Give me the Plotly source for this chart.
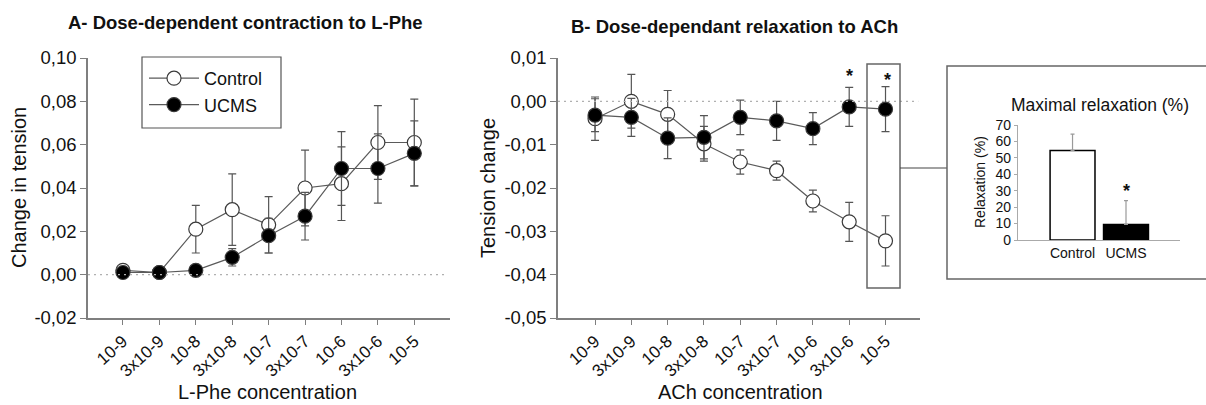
import plotly.graph_objects as go

W, H = 1206, 405
def px(x): return x / W
def py(y): return 1 - y / H

FONT = "Liberation Sans, Arial, sans-serif"
TXT = "#111111"

conc = ["10-9", "3x10-9", "10-8", "3x10-8", "10-7", "3x10-7", "10-6", "3x10-6", "10-5"]

# Panel A: L-Phe contraction
a_ctrl = [0.002, 0.001, 0.021, 0.030, 0.023, 0.040, 0.042, 0.061, 0.061]
a_ctrl_err = [0.0, 0.0, 0.011, 0.0165, 0.013, 0.0175, 0.017, 0.017, 0.020]
a_ucms = [0.001, 0.001, 0.002, 0.008, 0.018, 0.027, 0.049, 0.049, 0.056]
a_ucms_err = [0.0, 0.0, 0.0, 0.004, 0.008, 0.011, 0.017, 0.016, 0.015]
a_ticks = [-0.02, 0.0, 0.02, 0.04, 0.06, 0.08, 0.10]
a_ticktext = ["-0,02", "0,00", "0,02", "0,04", "0,06", "0,08", "0,10"]

# Panel B: ACh relaxation
b_ctrl = [-0.004, 0.000, -0.003, -0.0098, -0.014, -0.016, -0.023, -0.0278, -0.0322]
b_ctrl_err = [0.005, 0.0062, 0.0055, 0.004, 0.0028, 0.0022, 0.0025, 0.0045, 0.0058]
b_ucms = [-0.0032, -0.0037, -0.0085, -0.0083, -0.0037, -0.0045, -0.0063, -0.0013, -0.0018]
b_ucms_err = [0.0038, 0.0044, 0.0047, 0.005, 0.004, 0.0045, 0.0037, 0.0045, 0.0052]
b_ticks = [-0.05, -0.04, -0.03, -0.02, -0.01, 0.0, 0.01]
b_ticktext = ["-0,05", "-0,04", "-0,03", "-0,02", "-0,01", "0,00", "0,01"]

# Inset: maximal relaxation
groups = ["Control", "UCMS"]
max_relax = [54.5, 9.5]
max_relax_err = [10.0, 14.5]
inset_ticks = [0, 10, 20, 30, 40, 50, 60, 70]

AXC = "#7f7f7f"
LINEC = "#5a5a5a"
MARKC = "#3a3a3a"
ERRC = "#555555"

fig = go.Figure()

def add_series(x, y, err, fill, name, xa, ya, show):
    fig.add_trace(go.Scatter(
        x=x, y=y, name=name, mode="lines+markers",
        xaxis=xa, yaxis=ya, showlegend=show,
        line=dict(color=LINEC, width=1.2),
        marker=dict(size=14, color=fill, line=dict(color=MARKC, width=1.2)),
        error_y=dict(type="data", array=err, visible=True, color=ERRC,
                     thickness=1.2, width=4),
    ))

add_series(conc, a_ctrl, a_ctrl_err, "white", "Control", "x", "y", True)
add_series(conc, a_ucms, a_ucms_err, "black", "UCMS", "x", "y", True)
add_series(conc, b_ctrl, b_ctrl_err, "white", "Control", "x2", "y2", False)
add_series(conc, b_ucms, b_ucms_err, "black", "UCMS", "x2", "y2", False)

fig.add_trace(go.Bar(
    x=groups, y=max_relax, xaxis="x3", yaxis="y3", showlegend=False,
    width=0.84,
    marker=dict(color=["white", "black"], line=dict(color="black", width=1.5)),
    error_y=dict(type="data", array=max_relax_err, arrayminus=[0, 0],
                 symmetric=False, visible=True, color="#9a9a9a",
                 thickness=1.2, width=2),
))

common_x = dict(type="category", showline=True, linecolor=AXC, linewidth=1.5,
                ticks="outside", ticklen=5, tickcolor=AXC, tickwidth=1.2,
                tickangle=-42, tickfont=dict(family=FONT, size=17, color=TXT),
                showgrid=False, zeroline=False, automargin=False)
common_y = dict(showline=True, linecolor=AXC, linewidth=1.5,
                ticks="outside", ticklen=6, tickcolor=AXC, tickwidth=1.2,
                tickfont=dict(family=FONT, size=18.5, color=TXT),
                showgrid=False, zeroline=False, automargin=False)

fig.update_layout(
    width=W, height=H,
    margin=dict(l=0, r=0, t=0, b=0, pad=0, autoexpand=False),
    paper_bgcolor="white", plot_bgcolor="rgba(0,0,0,0)",
    font=dict(family=FONT, color=TXT),
    xaxis=dict(common_x, domain=[px(88), px(450)], range=[-0.96, 8.98],
               anchor="y"),
    yaxis=dict(common_y, domain=[py(318), py(58)], range=[-0.02, 0.10],
               tickvals=a_ticks, ticktext=a_ticktext, anchor="x"),
    xaxis2=dict(common_x, domain=[px(558), px(920)], range=[-1.02, 8.95],
                anchor="y2"),
    yaxis2=dict(common_y, domain=[py(318), py(58)], range=[-0.05, 0.01],
                tickvals=b_ticks, ticktext=b_ticktext, anchor="x2"),
    xaxis3=dict(type="category", domain=[px(1018), px(1180)], range=[-1.02, 2.01],
                showline=True, linecolor="#aaaaaa", linewidth=1.2, ticks="",
                tickfont=dict(family=FONT, size=14, color=TXT),
                showgrid=False, zeroline=False, anchor="y3", automargin=False),
    yaxis3=dict(domain=[py(240), py(125)], range=[0, 70],
                tickvals=inset_ticks,
                showline=True, linecolor="#aaaaaa", linewidth=1.2,
                ticks="outside", ticklen=3, tickcolor="#aaaaaa",
                tickfont=dict(family=FONT, size=14, color=TXT),
                showgrid=False, zeroline=False, anchor="x3", automargin=False),
    legend=dict(x=px(144), y=py(60), xanchor="left", yanchor="top",
                borderwidth=0, bgcolor="rgba(0,0,0,0)",
                font=dict(family=FONT, size=18, color=TXT),
                itemwidth=50, tracegroupgap=0),
    bargap=0.16,
)

shapes = [
    # legend frame
    dict(type="rect", xref="paper", yref="paper", x0=px(142), x1=px(281),
         y0=py(128), y1=py(57), line=dict(color="#555555", width=1.2),
         fillcolor="white", layer="below"),
    # zero reference lines
    dict(type="line", xref="x domain", yref="y", x0=0, x1=0.99, y0=0, y1=0,
         line=dict(color="#b0b0b0", width=1.2, dash="2px,4px")),
    dict(type="line", xref="x2 domain", yref="y2", x0=0, x1=0.995, y0=0, y1=0,
         line=dict(color="#b0b0b0", width=1.2, dash="2px,4px")),
    # highlight box around 10-5 in panel B
    dict(type="rect", xref="paper", yref="paper", x0=px(867), x1=px(900),
         y0=py(288), y1=py(64), line=dict(color="#666666", width=1.5)),
    # connector
    dict(type="line", xref="paper", yref="paper", x0=px(900), x1=px(947),
         y0=py(168), y1=py(168), line=dict(color="#444444", width=1.2)),
    # inset frame
    dict(type="rect", xref="paper", yref="paper", x0=px(947), x1=px(1215),
         y0=py(279), y1=py(66), line=dict(color="#666666", width=1.5)),
]
fig.update_layout(shapes=shapes)

ann = [
    dict(text="<b>A- Dose-dependent contraction to L-Phe</b>", x=px(246), y=py(22),
         font=dict(size=18.5)),
    dict(text="<b>B- Dose-dependant relaxation to ACh</b>", x=px(735), y=py(26),
         font=dict(size=18.5)),
    dict(text="Change in tension", x=px(19), y=py(188), textangle=-90,
         font=dict(size=20)),
    dict(text="Tension change", x=px(488), y=py(188), textangle=-90,
         font=dict(size=20)),
    dict(text="L-Phe concentration", x=px(267), y=py(392), font=dict(size=20)),
    dict(text="ACh concentration", x=px(740), y=py(392), font=dict(size=20)),
    dict(text="Maximal relaxation (%)", x=px(1100), y=py(105), font=dict(size=17.5)),
    dict(text="Relaxation (%)", x=px(980), y=py(182), textangle=-90,
         font=dict(size=14)),
    dict(text="<b>*</b>", x=px(849), y=py(76), font=dict(size=18)),
    dict(text="<b>*</b>", x=px(887), y=py(80), font=dict(size=18)),
    dict(text="<b>*</b>", x=px(1126), y=py(191), font=dict(size=18)),
]
for a in ann:
    a.update(xref="paper", yref="paper", showarrow=False,
             xanchor="center", yanchor="middle")
    a["font"] = dict(family=FONT, color=TXT, **a["font"])
fig.update_layout(annotations=ann)

fig.write_html("out.html")
